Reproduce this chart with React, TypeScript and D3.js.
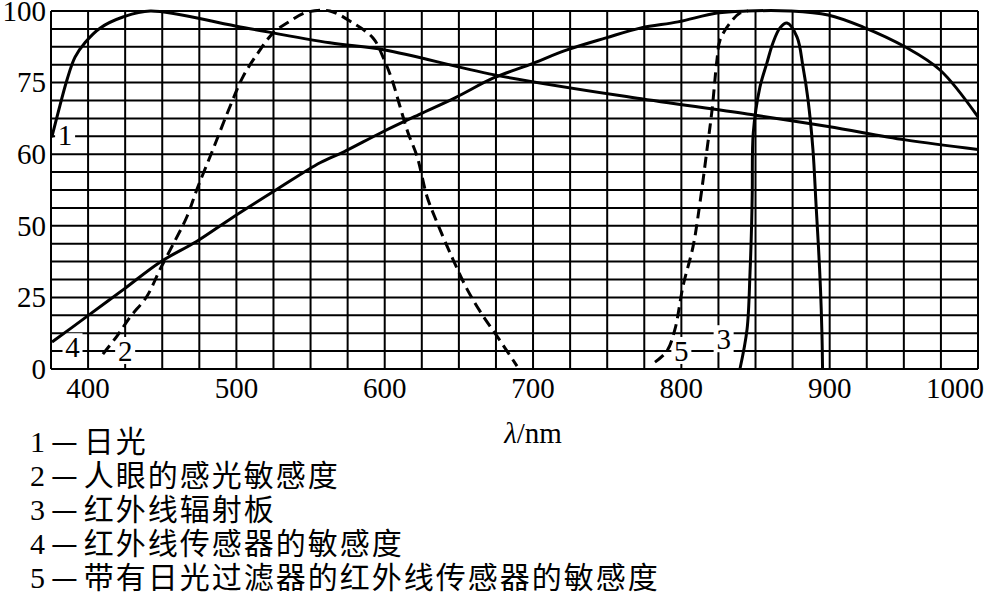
import React from "react";
import * as d3 from "d3";

// ---- data (wavelength nm, relative value %) ----
const xTicks = [400, 500, 600, 700, 800, 900, 1000];
const yTicks = [0, 25, 50, 60, 75, 100];

// 1 — 日光
const daylightNm = [375.5, 379.7, 385.8, 391.2, 398, 408, 423.5, 442, 500, 563, 600, 674, 773, 847, 899, 951, 1000];
const daylightVal = [63.5, 68.6, 76, 83.9, 89, 94, 97.9, 100, 94.7, 88.9, 86.4, 77.7, 71.6, 68.3, 65.8, 63, 61];

// 2 — 人眼的感光敏感度
const eyeNm = [410, 419.5, 428.3, 439.7, 448.5, 457.3, 466.7, 473.4, 484.2, 495.7, 504.4, 514.6, 524.7, 534.1, 547.6, 563, 578.6, 592.1, 598.8, 604.9, 610.3, 615.7, 621.8, 628.5, 635.2, 646, 655.5, 666.3, 675.7, 689.2];
const eyeVal = [5.2, 11.5, 18.1, 25.4, 34.8, 43.5, 51.3, 55.1, 61, 70, 77, 85.4, 92.3, 95.8, 99.6, 100, 95.8, 90.6, 84, 76, 70, 64.5, 59.7, 54.1, 50.5, 38.3, 27.9, 18.5, 11.5, 1];

// 3 — 红外线辐射板
const emitterNm = [839.5, 844.3, 846.3, 847.4, 847.8, 848.5, 853, 857.7, 861.8, 866.5, 871.2, 878, 882, 885.4, 888.7, 890.8, 892.5, 893.8, 894.8, 895.2];
const emitterVal = [0, 13.9, 33.8, 50.5, 54.7, 64.5, 74.1, 81.9, 88.9, 94.1, 95.8, 90.9, 80.5, 71.4, 61, 53, 42, 28, 12, 0];

// 4 — 红外线传感器的敏感度
const sensorNm = [375.7, 398.6, 424.2, 448.5, 473.4, 497.7, 527.4, 556.4, 572.5, 597.5, 623.1, 647.4, 673.7, 697.3, 722.9, 749.2, 772.8, 797.7, 824, 844.3, 873.2, 898.9, 922.5, 950.8, 974.4, 1000];
const sensorVal = [9.4, 18.1, 27.9, 37.3, 44.6, 51.2, 55.1, 58.8, 60.5, 64.5, 68.3, 71.8, 76.7, 81.2, 86.4, 90.6, 94.1, 96.2, 99.3, 100, 100, 98.6, 94.4, 87.5, 79.4, 67.8];

// 5 — 带有日光过滤器的红外线传感器的敏感度
const filteredNm = [782.2, 790.3, 795.7, 801.1, 807.9, 812.6, 817.3, 820.7, 824, 826.1, 832.8, 839.5, 844.9];
const filteredVal = [2.4, 6.3, 13.9, 28.9, 42.8, 53.3, 61, 69.3, 82.9, 89.9, 95.8, 99.3, 100];

const curveLabels = [
  { text: "1", nm: 384.5, val: 64 },
  { text: "4", nm: 389.5, val: 7.6 },
  { text: "2", nm: 425, val: 6.3 },
  { text: "5", nm: 800, val: 6.3 },
  { text: "3", nm: 828.5, val: 10.4 },
];

const legendNums = ["1", "2", "3", "4", "5"];
const legendTexts = [
  "日光",
  "人眼的感光敏感度",
  "红外线辐射板",
  "红外线传感器的敏感度",
  "带有日光过滤器的红外线传感器的敏感度",
];

const W = 986;
const H = 596;
const left = 51, right = 978, top = 11, bottom = 369;

const serif = "Liberation Serif, Times New Roman, Times, DejaVu Serif, serif";
const cjk = "Noto Sans CJK SC, sans-serif";

export default function App() {
  const x = d3.scaleLinear().domain([375, 1000]).range([left, right]);
  // labelled values are evenly spaced on the axis
  const y = d3
    .scaleLinear()
    .domain(yTicks)
    .range(yTicks.map((_, i) => bottom - (i * (bottom - top)) / (yTicks.length - 1)));

  const vGrid = d3.range(375, 1000.1, 25);
  const hGrid: number[] = [];
  for (let i = 0; i < yTicks.length - 1; i++) {
    for (let k = 0; k < 4; k++) hGrid.push(yTicks[i] + ((yTicks[i + 1] - yTicks[i]) * k) / 4);
  }
  hGrid.push(yTicks[yTicks.length - 1]);

  const line = d3
    .line<[number, number]>()
    .x((d) => x(d[0]))
    .y((d) => y(d[1]))
    .curve(d3.curveCatmullRom.alpha(0.5));

  const zip = (a: number[], b: number[]) => a.map((v, i) => [v, b[i]] as [number, number]);

  return (
    <svg width={W} height={H} style={{ position: "absolute", left: 0, top: 0, background: "#fff" }}>
      <rect x={0} y={0} width={W} height={H} fill="#fff" />
      <g stroke="#000" strokeWidth={2}>
        {vGrid.map((v) => (
          <line key={"v" + v} x1={x(v)} x2={x(v)} y1={top} y2={bottom} />
        ))}
        {hGrid.map((v) => (
          <line key={"h" + v} x1={left} x2={right} y1={y(v)} y2={y(v)} />
        ))}
      </g>
      {curveLabels.map((l) => (
        <g key={l.text}>
          <rect x={x(l.nm) - 10} y={y(l.val) - 14} width={20} height={27} fill="#fff" />
          <text x={x(l.nm)} y={y(l.val)} dy="0.35em" textAnchor="middle" style={{ fontFamily: serif }} fontSize={29}>
            {l.text}
          </text>
        </g>
      ))}
      <g fill="none" stroke="#000" strokeWidth={3}>
        <path d={line(zip(daylightNm, daylightVal)) || ""} />
        <path d={line(zip(sensorNm, sensorVal)) || ""} />
        <path d={line(zip(emitterNm, emitterVal)) || ""} />
        <path d={line(zip(eyeNm, eyeVal)) || ""} strokeDasharray="11,6" />
        <path d={line(zip(filteredNm, filteredVal)) || ""} strokeDasharray="11,6" />
      </g>
      {yTicks.map((t) => (
        <text key={"y" + t} x={46} y={y(t)} dy="0.34em" textAnchor="end" style={{ fontFamily: serif }} fontSize={29}>
          {t}
        </text>
      ))}
      {xTicks.map((t, i) => (
        <text
          key={"x" + t}
          x={i === xTicks.length - 1 ? 984 : x(t)}
          y={398}
          textAnchor={i === xTicks.length - 1 ? "end" : "middle"}
          style={{ fontFamily: serif }}
          fontSize={29}
        >
          {t}
        </text>
      ))}
      <text x={533} y={443} textAnchor="middle" style={{ fontFamily: serif }} fontSize={29}>
        <tspan fontStyle="italic">λ</tspan>/nm
      </text>
      {legendTexts.map((t, i) => (
        <text key={"lg" + i} x={30} y={452 + i * 34} fontSize={30}>
          <tspan style={{ fontFamily: serif }}>{legendNums[i]}</tspan>
          <tspan style={{ fontFamily: cjk }} dx={6}>—</tspan>
          <tspan style={{ fontFamily: cjk, letterSpacing: "2px" }} dx={6}>{t}</tspan>
        </text>
      ))}
    </svg>
  );
}
